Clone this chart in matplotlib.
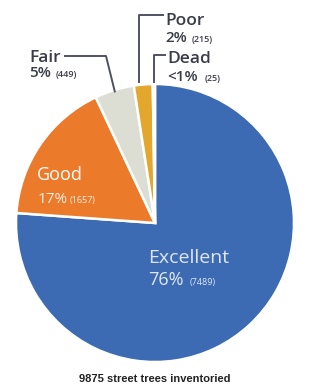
import matplotlib
matplotlib.use("Agg")
import numpy as np
import matplotlib.pyplot as plt

# tree condition data
categories = ["Excellent", "Good", "Fair", "Poor", "Dead"]
counts = [7489, 1657, 449, 215, 25]
pct_labels = ["76%", "17%", "5%", "2%", "<1%"]
colors = ["#3d6bb3", "#ec7a2b", "#dcddd3", "#e2a72c", "#f1c54a"]
total_label = "9875 street trees inventoried"

W, H = 309, 387
CX, CY, R = 155, H - 223, 139

plt.rcParams["font.family"] = ["Open Sans", "DejaVu Sans"]
plt.rcParams["font.weight"] = "semibold"

fig = plt.figure(figsize=(W / 100, H / 100), dpi=100)
ax = fig.add_axes([0, 0, 1, 1])

wedges, _ = ax.pie(
    counts,
    colors=colors,
    startangle=90,
    counterclock=False,
    center=(CX, CY),
    radius=R,
    wedgeprops={"edgecolor": "white", "linewidth": 1.8},
    frame=True,
)
ax.set_xlim(0, W)
ax.set_ylim(0, H)
ax.axis("off")


def edge_point(w, frac=1.0):
    ang = np.deg2rad((w.theta1 + w.theta2) / 2)
    return CX + R * frac * np.cos(ang), CY + R * frac * np.sin(ang)


dark = "#3a3c4a"
line_c = "#4e5262"

# inside labels (lighter weight)
ax.text(37, H - 180, "Good", color="white", fontsize=13, va="baseline",
        fontweight="normal")
ax.text(38, H - 203, pct_labels[1], color="#fbeee2", fontsize=11, va="baseline",
        fontweight="normal")
ax.text(70, H - 203, "(%d)" % counts[1], color="#fbeee2", fontsize=6.5,
        va="baseline", fontweight="normal")

ax.text(148, H - 263, "Excellent", color="#dfe7f4", fontsize=14, va="baseline",
        fontweight="normal")
ax.text(148, H - 285, pct_labels[0], color="#dfe7f4", fontsize=13, va="baseline",
        fontweight="normal")
ax.text(190, H - 285, "(%d)" % counts[0], color="#dfe7f4", fontsize=6.5,
        va="baseline", fontweight="normal")

# outside labels with leader lines
ax.text(29, H - 62, "Fair", color=dark, fontsize=12.5, va="baseline")
ax.text(29, H - 77, pct_labels[2], color=dark, fontsize=11, va="baseline")
ax.text(56, H - 77, "(%d)" % counts[2], color=dark, fontsize=6.5, va="baseline")
fx, fy = edge_point(wedges[2], 0.99)
ax.plot([65, 106, fx], [H - 56, H - 56, fy], color=line_c, lw=1.4)

ax.text(165, H - 25, "Poor", color=dark, fontsize=12.5, va="baseline")
ax.text(165, H - 42, pct_labels[3], color=dark, fontsize=11, va="baseline")
ax.text(192, H - 42, "(%d)" % counts[3], color=dark, fontsize=6.5, va="baseline")
px, py = edge_point(wedges[3], 1.0)
ax.plot([163, px - 4, px - 4], [H - 15, H - 15, py + 2], color=line_c, lw=1.4)

ax.text(167, H - 63, "Dead", color=dark, fontsize=12.5, va="baseline")
ax.text(167, H - 81, pct_labels[4], color=dark, fontsize=11, va="baseline")
ax.text(205, H - 81, "(%d)" % counts[4], color=dark, fontsize=6.5, va="baseline")
dx, dy = edge_point(wedges[4], 1.0)
ax.plot([165, dx, dx], [H - 55, H - 55, dy + 2], color=line_c, lw=1.4)

ax.text(W / 2, H - 382, total_label, color="#222222", fontsize=8,
        fontweight="bold", ha="center", va="baseline",
        family=["Liberation Sans", "DejaVu Sans"])

fig.savefig("out.png", dpi=100)
